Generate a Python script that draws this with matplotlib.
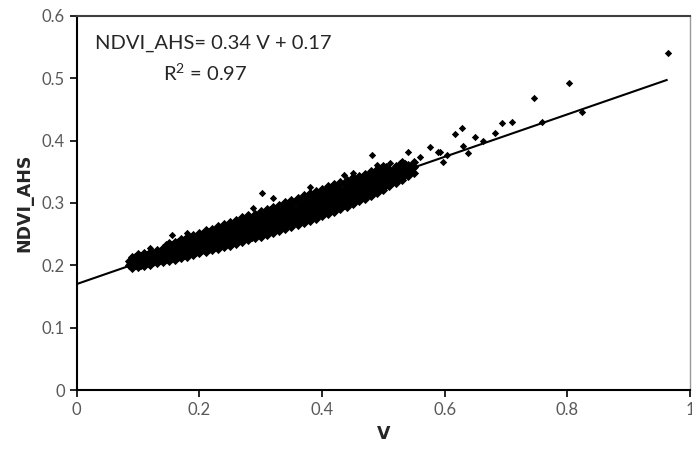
import matplotlib.pyplot as plt

plt.rcParams['font.family'] = ['Lato', 'DejaVu Sans']
plt.rcParams['mathtext.fontset'] = 'custom'
plt.rcParams['mathtext.rm'] = 'Lato'

# dense band of points
v_cloud = (
    [0.09] * 4 + [0.10] * 4 + [0.11] * 4 + [0.12] * 4 + [0.13] * 4 + [0.14] * 4
    + [0.15] * 5 + [0.16] * 5 + [0.17] * 5 + [0.18] * 5 + [0.19] * 5
    + [0.20] * 5 + [0.21] * 5 + [0.22] * 5 + [0.23] * 5 + [0.24] * 5
    + [0.25] * 5 + [0.26] * 5 + [0.27] * 5 + [0.28] * 5 + [0.29] * 5
    + [0.30] * 5 + [0.31] * 5 + [0.32] * 5 + [0.33] * 5 + [0.34] * 5
    + [0.35] * 5 + [0.36] * 5 + [0.37] * 5 + [0.38] * 5 + [0.39] * 5
    + [0.40] * 5 + [0.41] * 5 + [0.42] * 5 + [0.43] * 5 + [0.44] * 5
    + [0.45] * 5 + [0.46] * 5 + [0.47] * 5 + [0.48] * 5 + [0.49] * 5
    + [0.50] * 5 + [0.51] * 4 + [0.52] * 4 + [0.53] * 4 + [0.54] * 3 + [0.55] * 3
)
ndvi_cloud = [
    0.196, 0.203, 0.209, 0.214,
    0.197, 0.204, 0.211, 0.218,
    0.199, 0.206, 0.213, 0.220,
    0.201, 0.208, 0.215, 0.222,
    0.204, 0.211, 0.218, 0.225,
    0.206, 0.213, 0.220, 0.228,
    0.207, 0.214, 0.221, 0.228, 0.235,
    0.209, 0.217, 0.224, 0.231, 0.238,
    0.211, 0.219, 0.227, 0.235, 0.242,
    0.213, 0.222, 0.230, 0.238, 0.246,
    0.216, 0.225, 0.233, 0.241, 0.249,
    0.219, 0.228, 0.236, 0.244, 0.252,
    0.221, 0.230, 0.239, 0.247, 0.256,
    0.224, 0.233, 0.242, 0.251, 0.259,
    0.226, 0.235, 0.245, 0.254, 0.263,
    0.229, 0.238, 0.248, 0.257, 0.266,
    0.231, 0.241, 0.251, 0.261, 0.270,
    0.234, 0.244, 0.254, 0.264, 0.273,
    0.237, 0.247, 0.257, 0.267, 0.277,
    0.240, 0.250, 0.260, 0.270, 0.280,
    0.243, 0.253, 0.263, 0.273, 0.283,
    0.246, 0.256, 0.266, 0.276, 0.287,
    0.249, 0.259, 0.270, 0.280, 0.290,
    0.252, 0.262, 0.273, 0.283, 0.294,
    0.255, 0.266, 0.276, 0.287, 0.297,
    0.258, 0.269, 0.280, 0.290, 0.301,
    0.262, 0.273, 0.284, 0.294, 0.304,
    0.265, 0.276, 0.287, 0.298, 0.308,
    0.268, 0.280, 0.291, 0.301, 0.312,
    0.271, 0.283, 0.294, 0.305, 0.316,
    0.275, 0.286, 0.297, 0.308, 0.319,
    0.279, 0.290, 0.301, 0.312, 0.323,
    0.283, 0.294, 0.305, 0.316, 0.327,
    0.286, 0.297, 0.308, 0.319, 0.330,
    0.290, 0.301, 0.312, 0.323, 0.334,
    0.294, 0.305, 0.315, 0.326, 0.337,
    0.298, 0.309, 0.319, 0.330, 0.341,
    0.303, 0.313, 0.323, 0.333, 0.344,
    0.307, 0.317, 0.327, 0.337, 0.347,
    0.311, 0.321, 0.331, 0.341, 0.351,
    0.316, 0.326, 0.336, 0.346, 0.355,
    0.321, 0.331, 0.340, 0.350, 0.359,
    0.327, 0.337, 0.346, 0.355,
    0.332, 0.342, 0.351, 0.360,
    0.337, 0.347, 0.356, 0.365,
    0.343, 0.352, 0.361,
    0.348, 0.357, 0.366,
]

# points lying between the columns above
v_fill = (
    [0.085] * 2 + [0.095] * 3 + [0.105] * 3 + [0.115] * 3 + [0.125] * 3 + [0.135] * 3
    + [0.145] * 4 + [0.155] * 4 + [0.165] * 4 + [0.175] * 4 + [0.185] * 4
    + [0.195] * 4 + [0.205] * 4 + [0.215] * 4 + [0.225] * 4 + [0.235] * 4
    + [0.245] * 4 + [0.255] * 4 + [0.265] * 4 + [0.275] * 4 + [0.285] * 4
    + [0.295] * 4 + [0.305] * 4 + [0.315] * 4 + [0.325] * 4 + [0.335] * 4
    + [0.345] * 4 + [0.355] * 4 + [0.365] * 4 + [0.375] * 4 + [0.385] * 4
    + [0.395] * 4 + [0.405] * 4 + [0.415] * 4 + [0.425] * 4 + [0.435] * 4
    + [0.445] * 4 + [0.455] * 4 + [0.465] * 4 + [0.475] * 4 + [0.485] * 4
    + [0.495] * 4 + [0.505] * 4 + [0.515] * 3 + [0.525] * 3 + [0.535] * 3 + [0.545] * 2
)
ndvi_fill = [
    0.200, 0.207,
    0.200, 0.207, 0.213,
    0.201, 0.208, 0.215,
    0.203, 0.210, 0.217,
    0.205, 0.212, 0.219,
    0.208, 0.215, 0.222,
    0.210, 0.218, 0.225, 0.232,
    0.211, 0.218, 0.225, 0.233,
    0.214, 0.222, 0.229, 0.237,
    0.216, 0.224, 0.232, 0.240,
    0.219, 0.227, 0.235, 0.243,
    0.221, 0.230, 0.238, 0.246,
    0.224, 0.233, 0.241, 0.250,
    0.226, 0.235, 0.244, 0.253,
    0.229, 0.238, 0.247, 0.256,
    0.232, 0.241, 0.250, 0.259,
    0.235, 0.245, 0.254, 0.263,
    0.237, 0.247, 0.257, 0.267,
    0.240, 0.250, 0.260, 0.270,
    0.243, 0.253, 0.263, 0.273,
    0.246, 0.256, 0.266, 0.276,
    0.250, 0.260, 0.270, 0.281,
    0.253, 0.263, 0.273, 0.284,
    0.256, 0.267, 0.277, 0.288,
    0.259, 0.270, 0.280, 0.291,
    0.262, 0.273, 0.284, 0.295,
    0.265, 0.276, 0.287, 0.298,
    0.269, 0.280, 0.291, 0.301,
    0.272, 0.283, 0.294, 0.305,
    0.276, 0.287, 0.298, 0.308,
    0.279, 0.290, 0.301, 0.312,
    0.282, 0.293, 0.304, 0.315,
    0.286, 0.297, 0.308, 0.319,
    0.290, 0.301, 0.312, 0.323,
    0.293, 0.304, 0.315, 0.326,
    0.297, 0.308, 0.319, 0.330,
    0.301, 0.312, 0.322, 0.333,
    0.305, 0.316, 0.326, 0.337,
    0.310, 0.320, 0.330, 0.340,
    0.314, 0.324, 0.334, 0.344,
    0.318, 0.328, 0.338, 0.348,
    0.323, 0.333, 0.343, 0.352,
    0.329, 0.338, 0.348, 0.357,
    0.334, 0.344, 0.353,
    0.340, 0.349, 0.358,
    0.345, 0.355, 0.363,
    0.350, 0.359,
]

# scattered points along the edges and the outliers
v_sparse = [0.085, 0.12, 0.155, 0.18, 0.287, 0.302, 0.320, 0.380, 0.405, 0.437,
            0.436, 0.450, 0.481, 0.489, 0.511, 0.516, 0.527, 0.540, 0.548, 0.560,
            0.576, 0.589, 0.592, 0.597, 0.604, 0.617, 0.628, 0.630, 0.638, 0.649,
            0.662, 0.682, 0.693, 0.710, 0.745, 0.759, 0.803, 0.824, 0.964]
ndvi_sparse = [0.205, 0.228, 0.248, 0.252, 0.292, 0.316, 0.308, 0.326, 0.284, 0.300,
               0.345, 0.348, 0.377, 0.361, 0.364, 0.353, 0.364, 0.382, 0.358, 0.373,
               0.390, 0.382, 0.382, 0.366, 0.377, 0.410, 0.420, 0.391, 0.380, 0.406,
               0.400, 0.412, 0.428, 0.430, 0.468, 0.430, 0.492, 0.446, 0.540]

slope = 0.34
intercept = 0.17
v_line = [0.0, 0.962]

fig = plt.figure(figsize=(6.92, 4.53), dpi=100)
ax = fig.add_axes([0.111, 0.139, 0.886, 0.826])

ax.scatter(v_cloud, ndvi_cloud, marker='D', s=22, color='black', linewidths=0, zorder=3)
ax.scatter(v_fill, ndvi_fill, marker='D', s=22, color='black', linewidths=0, zorder=3)
ax.scatter(v_sparse, ndvi_sparse, marker='D', s=14, color='black', linewidths=0, zorder=3)
ax.plot(v_line, [intercept + slope * v for v in v_line], color='black', lw=1.5, zorder=4)

ax.set_xlim(0, 1)
ax.set_ylim(0, 0.6)
ax.set_xticks([0, 0.2, 0.4, 0.6, 0.8, 1])
ax.set_xticklabels(['0', '0.2', '0.4', '0.6', '0.8', '1'])
ax.set_yticks([0, 0.1, 0.2, 0.3, 0.4, 0.5, 0.6])
ax.set_yticklabels(['0', '0.1', '0.2', '0.3', '0.4', '0.5', '0.6'])
ax.tick_params(axis='both', direction='out', length=5, width=1.2, labelsize=12,
               labelcolor='#595959', color='black')

ax.spines['left'].set_linewidth(1.5)
ax.spines['bottom'].set_linewidth(1.5)
ax.spines['top'].set_linewidth(1.5)
ax.spines['top'].set_color('#404040')
ax.spines['right'].set_linewidth(1.0)
ax.spines['right'].set_color('#999999')

ax.set_xlabel('V', fontsize=12.5, fontweight='bold', color='#262626', labelpad=5,
              family='DejaVu Sans')
ax.set_ylabel('NDVI_AHS', fontsize=12.5, fontweight='bold', color='#262626', labelpad=6,
              family='DejaVu Sans')

ax.text(0.223, 0.556, 'NDVI_AHS= 0.34 V + 0.17', fontsize=14.5, ha='center', va='center',
        color='#262626')
ax.text(0.210, 0.509, 'R$^2$ = 0.97', fontsize=14.5, ha='center', va='center', color='#262626')

fig.savefig('out.png', dpi=100)
